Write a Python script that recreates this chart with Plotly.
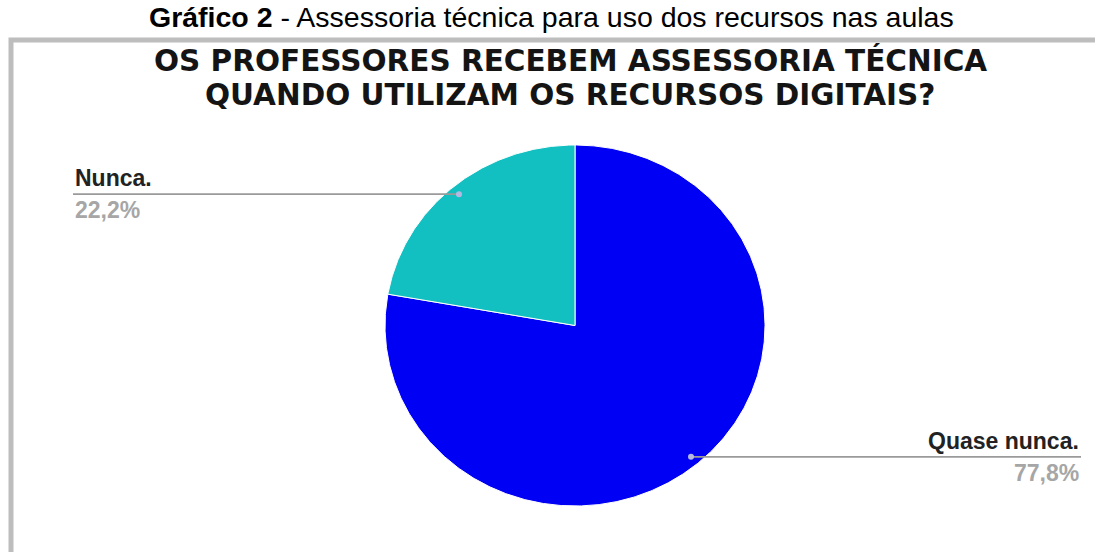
import math
import plotly.graph_objects as go

# Survey answers (number of teachers) and slice colours
categories = ["Quase nunca.", "Nunca."]
counts = [7, 2]
slice_colors = ["#0000f4", "#12c0c2"]

main_title = "<b>Gráfico 2</b> - Assessoria técnica para uso dos recursos nas aulas"
chart_title_lines = ["OS PROFESSORES RECEBEM ASSESSORIA TÉCNICA",
                     "QUANDO UTILIZAM OS RECURSOS DIGITAIS?"]

W, H = 1095, 552
CX, CY = 575, 325.5      # pie centre (pixel frame)
RX, RY = 190, 180.5      # pie radii
LABEL_LEFT, LABEL_RIGHT = 73, 1081
FONT = "Liberation Sans, Arial, sans-serif"
TITLE_FONT = "DejaVu Sans, Arial, sans-serif"

total = sum(counts)
fig = go.Figure()


def pt(angle_deg, frac=1.0):
    a = math.radians(angle_deg)
    return CX + frac * RX * math.sin(a), CY - frac * RY * math.cos(a)


# Slices: clockwise from 12 o'clock
start = 0.0
annotations = []
for name, n, color in zip(categories, counts, slice_colors):
    sweep = 360.0 * n / total
    steps = max(int(sweep * 2), 2)
    xs, ys = [CX], [CY]
    for i in range(steps + 1):
        x, y = pt(start + sweep * i / steps)
        xs.append(x)
        ys.append(y)
    xs.append(CX)
    ys.append(CY)
    fig.add_trace(go.Scatter(
        x=xs, y=ys, mode="lines", fill="toself", fillcolor=color,
        line=dict(color="white", width=1), hoverinfo="skip", showlegend=False,
    ))

    # leader line from slice middle to the label
    mid = start + sweep / 2
    dx, dy = pt(mid, 0.95)
    on_right = math.sin(math.radians(mid)) > 0
    end_x = LABEL_RIGHT if on_right else LABEL_LEFT
    fig.add_trace(go.Scatter(
        x=[dx, end_x], y=[dy, dy], mode="lines",
        line=dict(color="#9a9a9a", width=1.6), hoverinfo="skip", showlegend=False,
    ))
    fig.add_trace(go.Scatter(
        x=[dx], y=[dy], mode="markers",
        marker=dict(size=6, color="#b4b8e0", line=dict(width=0)),
        hoverinfo="skip", showlegend=False,
    ))
    pct = f"{100 * n / total:.1f}".replace(".", ",") + "%"
    anchor = "right" if on_right else "left"
    annotations.append(dict(
        x=end_x, y=dy - 1, xref="x", yref="y", text=f"<b>{name}</b>",
        showarrow=False, xanchor=anchor, yanchor="bottom",
        font=dict(family=FONT, size=23, color="#222222"),
    ))
    annotations.append(dict(
        x=end_x, y=dy + 1, xref="x", yref="y", text=f"<b>{pct}</b>",
        showarrow=False, xanchor=anchor, yanchor="top",
        font=dict(family=FONT, size=23, color="#a6a6a6"),
    ))
    start += sweep

annotations.append(dict(
    x=551, y=17, xref="x", yref="y", text=main_title, showarrow=False,
    xanchor="center", yanchor="middle",
    font=dict(family=FONT, size=28.5, color="#000000"),
))
for i, line in enumerate(chart_title_lines):
    annotations.append(dict(
        x=570, y=60 + 34.5 * i, xref="x", yref="y", text=f"<b>{line}</b>",
        showarrow=False, xanchor="center", yanchor="middle",
        font=dict(family=TITLE_FONT, size=29.5, color="#141414"),
    ))

fig.update_layout(
    width=W, height=H,
    margin=dict(l=0, r=0, t=0, b=0),
    paper_bgcolor="white", plot_bgcolor="white",
    xaxis=dict(range=[0, W], visible=False, fixedrange=True),
    yaxis=dict(range=[H, 0], visible=False, fixedrange=True),
    annotations=annotations,
    shapes=[dict(
        type="rect", xref="x", yref="y", x0=11, y0=40, x1=W + 10, y1=H + 10,
        line=dict(color="#bdbdbd", width=5), fillcolor="rgba(0,0,0,0)", layer="below",
    )],
)

fig.write_html("out.html")
